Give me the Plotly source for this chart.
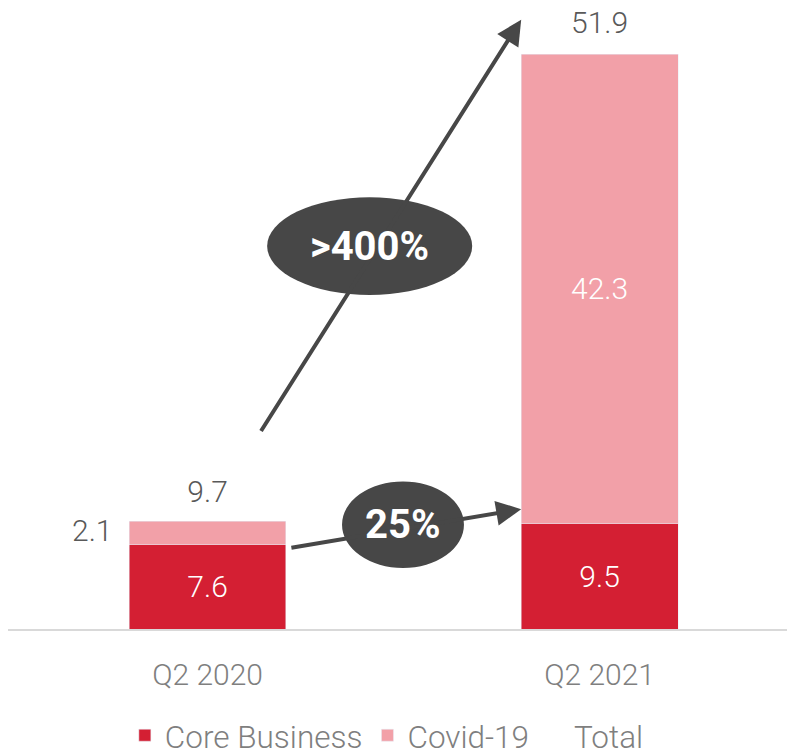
import plotly.graph_objects as go

categories = ["Q2 2020", "Q2 2021"]
core = [7.6, 9.5]
covid = [2.1, 42.3]
total = [9.7, 51.9]
growth_labels = [">400%", "25%"]

RED = "#D41F33"
PINK = "#F2A0A8"
DARK = "#474747"
TXT = "#595959"
FONT = "Roboto"

fig = go.Figure()
fig.add_bar(x=categories, y=core, name="Core Business", marker_color=RED,
            text=[f"{v:.1f}" for v in core], textposition="inside",
            insidetextanchor="middle",
            textfont=dict(family=FONT, size=30, color="white", weight=300))
fig.add_bar(x=categories, y=covid, name="Covid-19", marker_color=PINK,
            text=["", f"{covid[1]:.1f}"], textposition="inside",
            insidetextanchor="middle",
            textfont=dict(family=FONT, size=30, color="white", weight=300))
fig.add_scatter(x=categories, y=total, name="Total", mode="markers+text",
                marker=dict(size=18, color="rgba(0,0,0,0)"),
                text=[f"{v:.1f}" for v in total], textposition="top center",
                textfont=dict(family=FONT, size=30, color=TXT, weight=300))

# outside label for small covid segment
fig.add_annotation(x=-0.295, y=core[0] + covid[0] / 2 + 0.2, text=f"{covid[0]:.1f}",
                   showarrow=False, xref="x", yref="y",
                   font=dict(family=FONT, size=30, color=TXT, weight=300))

# arrows
fig.add_annotation(x=0.8, y=54.9, ax=0.134, ay=17.7, xref="x", yref="y",
                   axref="x", ayref="y", text="", showarrow=True,
                   arrowhead=2, arrowsize=1.25, arrowwidth=4, arrowcolor=DARK)
fig.add_annotation(x=0.8, y=10.8, ax=0.21, ay=7.3, xref="x", yref="y",
                   axref="x", ayref="y", text="", showarrow=True,
                   arrowhead=2, arrowsize=1.25, arrowwidth=4, arrowcolor=DARK)

# ellipses
fig.add_shape(type="circle", xref="x", yref="y", x0=0.152, x1=0.675, y0=30.1, y1=38.9,
              fillcolor=DARK, line=dict(width=0))
fig.add_shape(type="circle", xref="x", yref="y", x0=0.343, x1=0.654, y0=5.5, y1=13.3,
              fillcolor=DARK, line=dict(width=0))
fig.add_annotation(x=0.4135, y=34.5, text=growth_labels[0], showarrow=False,
                   font=dict(family=FONT, size=40, color="white", weight=700))
fig.add_annotation(x=0.4985, y=9.4, text=growth_labels[1], showarrow=False,
                   font=dict(family=FONT, size=40, color="white", weight=700))

fig.update_layout(
    width=787, height=755,
    margin=dict(l=8, r=0, t=10, b=126, autoexpand=False),
    barmode="stack", bargap=0.6,
    plot_bgcolor="white", paper_bgcolor="white",
    showlegend=True,
    legend=dict(orientation="h", x=0.15, xanchor="left", y=-0.128, yanchor="top",
                font=dict(family=FONT, size=31.5, color="#7F7F7F", weight=300),
                itemwidth=30, traceorder="normal"),
    xaxis=dict(type="category", range=[-0.509, 1.478], showline=True,
               linecolor="#D9D9D9", linewidth=2, ticks="outside", ticklen=18,
               tickcolor="rgba(0,0,0,0)", showgrid=False,
               tickfont=dict(family=FONT, size=30, color="#7F7F7F", weight=300)),
    yaxis=dict(range=[0, 55.77], visible=False, showgrid=False, zeroline=False),
)

fig.write_html("out.html")
